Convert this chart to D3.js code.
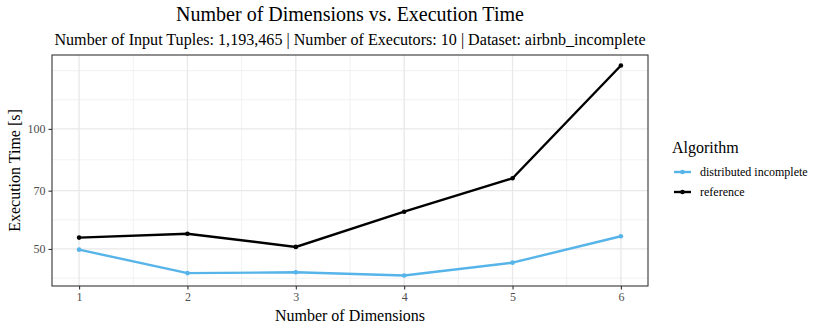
<!DOCTYPE html>
<html>
<head>
<meta charset="utf-8">
<style>
  body { margin: 0; background: #fff; }
  text { font-family: "Liberation Serif", "DejaVu Serif", serif; }
</style>
</head>
<body>
<svg id="chart" width="830" height="332"></svg>
<script src="https://cdn.jsdelivr.net/npm/d3@7"></script>
<script>
// data
var dims = [1, 2, 3, 4, 5, 6];
var seriesNames = ["distributed incomplete", "reference"];
var distributedIncomplete = [49.8, 43.5, 43.7, 42.9, 46.2, 53.8];
var reference = [53.4, 54.6, 50.6, 62.0, 75.2, 144.2];
var yTicks = [50, 70, 100];
var colors = ["#56B4E9", "#000000"];

var svg = d3.select("#chart"),
    margin = {top: 55, right: 182, bottom: 46, left: 52},
    width = 830 - margin.left - margin.right,
    height = 332 - margin.top - margin.bottom;

var series = seriesNames.map(function(name, i) {
  var vals = i == 0 ? distributedIncomplete : reference;
  return {name: name, color: colors[i], values: dims.map(function(d, j) { return {x: d, y: vals[j]}; })};
});

// ggplot-style 5% expansion (log space for y)
var xPad = (d3.max(dims) - d3.min(dims)) * 0.05;
var x = d3.scaleLinear()
    .domain([d3.min(dims) - xPad, d3.max(dims) + xPad])
    .range([0, width]);

var allY = distributedIncomplete.concat(reference);
var lo = Math.log10(d3.min(allY)), hi = Math.log10(d3.max(allY)), pad = (hi - lo) * 0.05;
var y = d3.scaleLog()
    .domain([Math.pow(10, lo - pad), Math.pow(10, hi + pad)])
    .range([height, 0]);

var g = svg.append("g").attr("transform", "translate(" + margin.left + "," + margin.top + ")");

// minor breaks: midpoints in log space, plus one extended break past the ends
var lt = yTicks.map(function(v) { return Math.log10(v); });
var step = lt[1] - lt[0];
var ext = [lt[0] - step].concat(lt, [lt[lt.length - 1] + step]);
var yMinor = [];
for (var i = 0; i < ext.length - 1; i++) yMinor.push((ext[i] + ext[i + 1]) / 2);
yMinor.push(ext[ext.length - 1]);
yMinor = yMinor.map(function(v) { return Math.pow(10, v); })
  .filter(function(v) { return v > y.domain()[0] && v < y.domain()[1]; });
var xMinor = d3.range(1.5, 6, 1);

g.selectAll(".ymin").data(yMinor).enter().append("line")
    .attr("x1", 0).attr("x2", width)
    .attr("y1", function(d) { return y(d); }).attr("y2", function(d) { return y(d); })
    .attr("stroke", "#ebebeb").attr("stroke-width", 0.7);
g.selectAll(".xmin").data(xMinor).enter().append("line")
    .attr("y1", 0).attr("y2", height)
    .attr("x1", function(d) { return x(d); }).attr("x2", function(d) { return x(d); })
    .attr("stroke", "#ebebeb").attr("stroke-width", 0.7);
g.selectAll(".ymaj").data(yTicks).enter().append("line")
    .attr("x1", 0).attr("x2", width)
    .attr("y1", function(d) { return y(d); }).attr("y2", function(d) { return y(d); })
    .attr("stroke", "#e8e8e8").attr("stroke-width", 1.3);
g.selectAll(".xmaj").data(dims).enter().append("line")
    .attr("y1", 0).attr("y2", height)
    .attr("x1", function(d) { return x(d); }).attr("x2", function(d) { return x(d); })
    .attr("stroke", "#e8e8e8").attr("stroke-width", 1.3);

var line = d3.line().x(function(d) { return x(d.x); }).y(function(d) { return y(d.y); });

var sg = g.selectAll(".series").data(series).enter().append("g");
sg.append("path")
    .attr("d", function(d) { return line(d.values); })
    .attr("fill", "none")
    .attr("stroke", function(d) { return d.color; })
    .attr("stroke-width", 2.4);
sg.selectAll("circle").data(function(d) { return d.values.map(function(v) { return {v: v, c: d.color}; }); })
  .enter().append("circle")
    .attr("cx", function(d) { return x(d.v.x); })
    .attr("cy", function(d) { return y(d.v.y); })
    .attr("r", 2.3)
    .attr("fill", function(d) { return d.c; });

g.append("rect").attr("width", width).attr("height", height)
    .attr("fill", "none").attr("stroke", "#333333").attr("stroke-width", 1.1);

var xAxis = g.append("g").attr("transform", "translate(0," + height + ")")
    .call(d3.axisBottom(x).tickValues(dims).tickSize(3.5).tickPadding(3).tickFormat(d3.format("d")));
var yAxis = g.append("g")
    .call(d3.axisLeft(y).tickValues(yTicks).tickSize(3.5).tickPadding(3).tickFormat(d3.format("d")));
[xAxis, yAxis].forEach(function(a) {
  a.select(".domain").remove();
  a.selectAll("line").attr("stroke", "#333333").attr("stroke-width", 1.1);
  a.selectAll("text").attr("fill", "#4d4d4d").attr("font-size", 12)
    .style("font-family", "'Liberation Serif', serif");
});

svg.append("text")
    .attr("x", margin.left + width / 2).attr("y", 21)
    .attr("text-anchor", "middle").attr("font-size", 20)
    .text("Number of Dimensions vs. Execution Time");
svg.append("text")
    .attr("x", margin.left + width / 2).attr("y", 45)
    .attr("text-anchor", "middle").attr("font-size", 16.1)
    .text("Number of Input Tuples: 1,193,465 | Number of Executors: 10 | Dataset: airbnb_incomplete");
svg.append("text")
    .attr("x", margin.left + width / 2).attr("y", 321)
    .attr("text-anchor", "middle").attr("font-size", 16)
    .text("Number of Dimensions");
svg.append("text")
    .attr("transform", "translate(20," + (margin.top + height / 2) + ") rotate(-90)")
    .attr("text-anchor", "middle").attr("font-size", 16)
    .text("Execution Time [s]");

// legend
var lg = svg.append("g").attr("transform", "translate(672,0)");
lg.append("text").attr("x", 0).attr("y", 153).attr("font-size", 16).text("Algorithm");
var items = lg.selectAll(".item").data(series).enter().append("g")
    .attr("transform", function(d, i) { return "translate(0," + (172 + i * 20) + ")"; });
items.append("line").attr("x1", 2).attr("x2", 19)
    .attr("stroke", function(d) { return d.color; }).attr("stroke-width", 2.4);
items.append("circle").attr("cx", 10.5).attr("r", 2.3).attr("fill", function(d) { return d.color; });
items.append("text").attr("x", 28).attr("y", 4).attr("font-size", 12).text(function(d) { return d.name; });
</script>
</body>
</html>
